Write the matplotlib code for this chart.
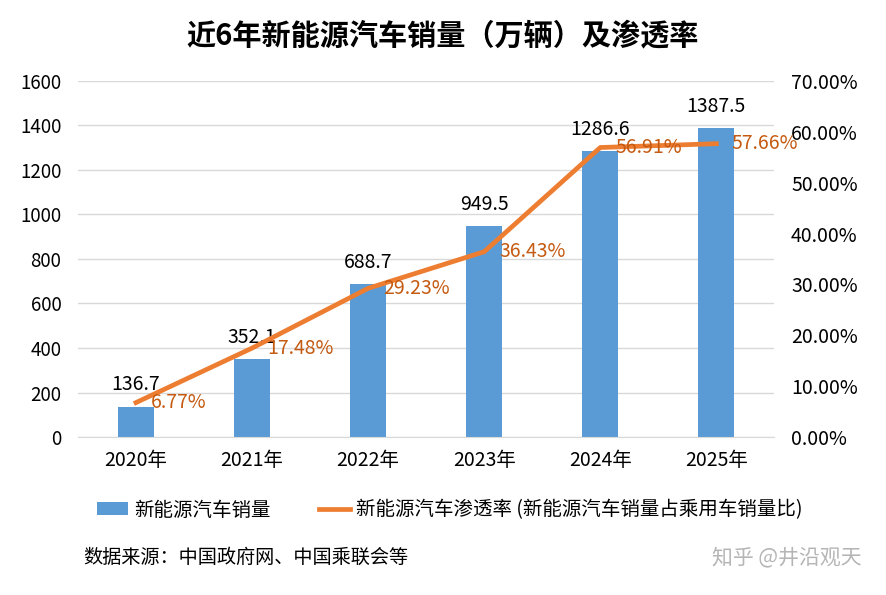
import numpy as np
import matplotlib.pyplot as plt

plt.rcParams['font.family'] = ['Noto Sans CJK SC', 'DejaVu Sans']

# data
years = ['2020年', '2021年', '2022年', '2023年', '2024年', '2025年']
sales = [136.7, 352.1, 688.7, 949.5, 1286.6, 1387.5]
rate = [6.77, 17.48, 29.23, 36.43, 56.91, 57.66]

bar_color = '#5B9BD5'
line_color = '#ED7D31'
label_color = '#C55A11'

fig = plt.figure(figsize=(8.86, 5.95), dpi=100)
ax = fig.add_axes([0.088, 0.2655, 0.786, 0.5985])
x = np.arange(len(years))

bars = ax.bar(x, sales, width=0.31, color=bar_color, zorder=2, label='新能源汽车销量')
ax.set_ylim(0, 1600)
ax.set_yticks(range(0, 1601, 200))
ax.set_xlim(-0.5, len(years) - 0.5)
ax.set_xticks(x)
ax.set_xticklabels(years)
ax.grid(axis='y', color='#D9D9D9', lw=1, zorder=0)
for s in ax.spines.values():
    s.set_visible(False)
ax.spines['bottom'].set_visible(True)
ax.spines['bottom'].set_color('#D9D9D9')
ax.tick_params(length=0, labelsize=13.5, colors='#000000')
ax.tick_params(axis='x', labelsize=14, pad=9)
ax.tick_params(axis='y', pad=12)

for xi, v in zip(x, sales):
    ax.annotate(f'{v}', (xi, v), xytext=(0, 8), textcoords='offset points',
                ha='center', va='bottom', fontsize=14)

ax2 = ax.twinx()
line, = ax2.plot(x, rate, color=line_color, lw=3.4, zorder=3,
                 label='新能源汽车渗透率 (新能源汽车销量占乘用车销量比)')
ax2.set_ylim(0, 70)
ax2.set_yticks(range(0, 71, 10))
ax2.set_yticklabels([f'{t:.2f}%' for t in range(0, 71, 10)])
for s in ax2.spines.values():
    s.set_visible(False)
ax2.tick_params(length=0, labelsize=14, pad=12)

for xi, v in zip(x, rate):
    ax2.annotate(f'{v:.2f}%', (xi, v), xytext=(11, 0), textcoords='offset points',
                 ha='left', va='center', fontsize=14, color=label_color)

fig.text(0.5, 0.941, '近6年新能源汽车销量（万辆）及渗透率', ha='center', va='center',
         fontsize=21, fontweight='bold')

fig.legend(handles=[bars, line], loc='center left', bbox_to_anchor=(0.09, 1 - 510 / 595),
           ncol=2, frameon=False, fontsize=14, handlelength=1.6, handleheight=0.6,
           columnspacing=2.5, handletextpad=0.3)

fig.text(0.094, 1 - 557 / 595, '数据来源：中国政府网、中国乘联会等', ha='left', va='center',
         fontsize=13.8)
fig.text(0.973, 1 - 557 / 595, '知乎 @井沿观天', ha='right', va='center',
         fontsize=15, color='#B5B5B5')

fig.savefig('out.png', dpi=100)
